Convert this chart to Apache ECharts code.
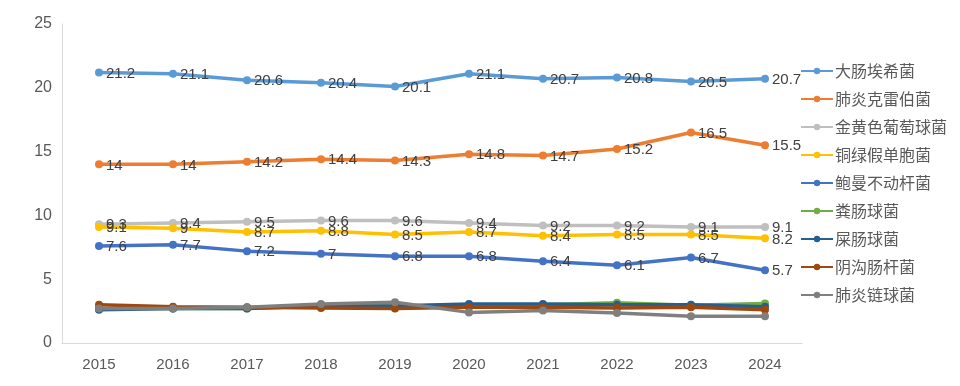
<!DOCTYPE html>
<html><head><meta charset="utf-8">
<script src="https://cdn.jsdelivr.net/npm/echarts@6/dist/echarts.min.js"></script>
<style>html,body{margin:0;padding:0;background:#fff}#c{width:960px;height:386px}</style>
</head><body><div id="c"></div>
<script>
const years = ['2015','2016','2017','2018','2019','2020','2021','2022','2023','2024'];
const seriesNames = ['大肠埃希菌','肺炎克雷伯菌','金黄色葡萄球菌','铜绿假单胞菌','鲍曼不动杆菌','粪肠球菌','屎肠球菌','阴沟肠杆菌','肺炎链球菌'];
const ecoli = [21.2,21.1,20.6,20.4,20.1,21.1,20.7,20.8,20.5,20.7];
const kpn = [14,14,14.2,14.4,14.3,14.8,14.7,15.2,16.5,15.5];
const sau = [9.3,9.4,9.5,9.6,9.6,9.4,9.2,9.2,9.1,9.1];
const pae = [9.1,9,8.7,8.8,8.5,8.7,8.4,8.5,8.5,8.2];
const aba = [7.6,7.7,7.2,7,6.8,6.8,6.4,6.1,6.7,5.7];
const efa = [2.7,2.7,2.7,2.9,2.9,3.0,3.0,3.15,2.95,3.1];
const efm = [2.6,2.7,2.7,2.9,2.9,3.05,3.05,3.0,3.0,2.85];
const ecl = [3.0,2.85,2.8,2.75,2.7,2.8,2.8,2.75,2.8,2.6];
const spn = [2.7,2.7,2.8,3.05,3.2,2.4,2.55,2.35,2.1,2.1];
const yTicks = [0,5,10,15,20,25];

const values = [ecoli,kpn,sau,pae,aba,efa,efm,ecl,spn];
const colors = ['#5B9BD5','#ED7D31','#BFBFBF','#FFC000','#4472C4','#70AD47','#255E91','#9E480E','#7F7F7F'];
const labeled = [true,true,true,true,true,false,false,false,false];

const chart = echarts.init(document.getElementById('c'));
chart.setOption({
  animation:false,
  grid:{left:62,right:158,top:24,bottom:43},
  legend:{
    orient:'vertical', left:795, top:58, itemGap:12, itemWidth:32, itemHeight:8,
    textStyle:{fontSize:16,color:'#595959',fontFamily:'Noto Sans CJK SC',padding:[0,0,0,-3]},
    data:seriesNames
  },
  xAxis:{type:'category',data:years,boundaryGap:true,
    axisLine:{lineStyle:{color:'#D9D9D9'}},axisTick:{show:false},
    axisLabel:{fontSize:15,color:'#595959',margin:14,fontFamily:'Liberation Sans'}},
  yAxis:{type:'value',min:yTicks[0],max:yTicks[yTicks.length-1],interval:5,
    axisLine:{show:true,lineStyle:{color:'#D9D9D9'}},splitLine:{show:false},
    axisLabel:{fontSize:16,color:'#595959',margin:10,fontFamily:'Liberation Sans'}},
  series: seriesNames.map((n,i)=>({
    name:n,type:'line',data:values[i],symbol:'circle',symbolSize:8,
    itemStyle:{color:colors[i]},lineStyle:{width:3.5,color:colors[i]},
    label:{show:labeled[i],position:'right',distance:3,offset:[0,1],fontSize:15,color:'#404040',fontFamily:'Liberation Sans'}
  }))
});
</script></body></html>
